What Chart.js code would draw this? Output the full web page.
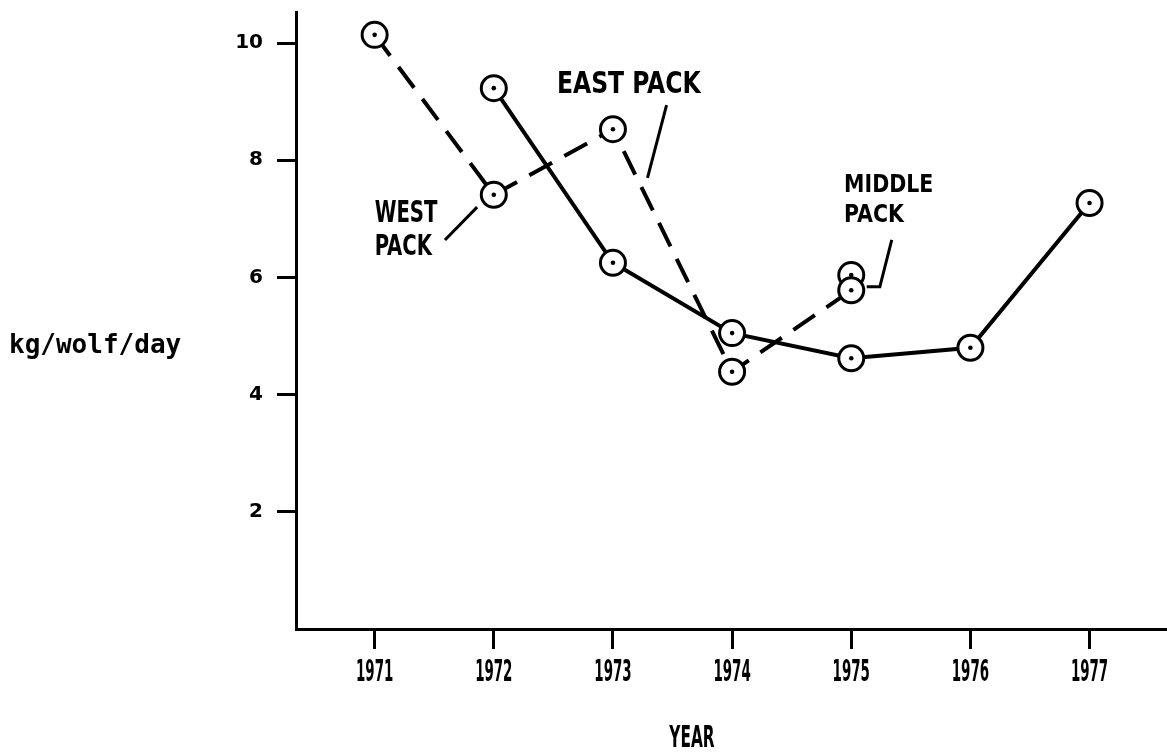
<!DOCTYPE html>
<html>
<head>
<meta charset="utf-8">
<script src="https://cdn.jsdelivr.net/npm/chart.js@4"></script>
<style>
  html, body { margin: 0; padding: 0; background: #fff; overflow: hidden; }
  #wolfChart { position: absolute; left: 0; top: 0; }
</style>
</head>
<body>
<canvas id="wolfChart" width="1167" height="752"></canvas>
<script>
// years on the x axis
const yearTicks = [1971, 1972, 1973, 1974, 1975, 1976, 1977];
const valueTicks = [2, 4, 6, 8, 10];

// solid line
const solidYears = [1972, 1973, 1974, 1975, 1976, 1977];
const solidValues = [9.23, 6.25, 5.05, 4.62, 4.80, 7.27];

// dashed line (west / east pack)
const dashedYears = [1971, 1972, 1973, 1974, 1975];
const dashedValues = [10.14, 7.41, 8.53, 4.39, 5.78];

// second middle pack point
const middleYears = [1975];
const middleValues = [6.04];

const toPoints = (xs, ys) => xs.map((x, i) => ({ x: x, y: ys[i] }));

const condFont = "'DejaVu Sans Condensed', 'DejaVu Sans', sans-serif";
const monoFont = "'DejaVu Sans Mono', monospace";

// labels and leader lines, placed in data units
const notes = [
  { text: "EAST PACK", x: 1972.53, y: 9.28, size: 30, sx: 0.87 },
  { text: "WEST", x: 1971.0, y: 7.08, size: 30, sx: 0.73 },
  { text: "PACK", x: 1971.0, y: 6.50, size: 28, sx: 0.78 },
  { text: "MIDDLE", x: 1974.94, y: 7.56, size: 24, sx: 0.95 },
  { text: "PACK", x: 1974.94, y: 7.05, size: 24, sx: 0.95 }
];
const leaders = [
  [[1973.45, 8.94], [1973.29, 7.70]],
  [[1971.59, 6.64], [1971.86, 7.20]],
  [[1975.34, 6.64], [1975.24, 5.84], [1975.13, 5.84]]
];

const pointStyle = {
  pointRadius: 12.5,
  pointHoverRadius: 12.5,
  pointBackgroundColor: "#fff",
  pointBorderColor: "#000",
  pointBorderWidth: 3
};

function squeezed(c, text, x, y, sx) {
  c.save();
  c.translate(x, y);
  c.scale(sx, 1);
  c.fillText(text, 0, 0);
  c.restore();
}

const extras = {
  id: "extras",
  afterDatasetsDraw(chart) {
    const c = chart.ctx;
    const xs = chart.scales.x, ys = chart.scales.y;
    c.save();
    c.fillStyle = "#000";
    // centre dots
    chart.data.datasets.forEach((ds, i) => {
      chart.getDatasetMeta(i).data.forEach(el => {
        c.beginPath();
        c.arc(el.x, el.y, 2.3, 0, Math.PI * 2);
        c.fill();
      });
    });
    // leader lines
    c.strokeStyle = "#000";
    c.lineWidth = 3;
    leaders.forEach(pts => {
      c.beginPath();
      pts.forEach((p, k) => {
        const px = xs.getPixelForValue(p[0]), py = ys.getPixelForValue(p[1]);
        if (k === 0) c.moveTo(px, py); else c.lineTo(px, py);
      });
      c.stroke();
    });
    // note text
    c.textAlign = "left";
    c.textBaseline = "middle";
    notes.forEach(n => {
      c.font = "bold " + n.size + "px " + condFont;
      squeezed(c, n.text, xs.getPixelForValue(n.x), ys.getPixelForValue(n.y), n.sx);
    });
    // year labels under the x ticks (narrow lettering)
    c.textAlign = "center";
    c.font = "bold 31px " + condFont;
    xs.ticks.forEach(t => {
      squeezed(c, String(t.value), xs.getPixelForValue(t.value), 673, 0.48);
    });
    // axis titles
    squeezed(c, "YEAR", 692, 739, 0.55);
    c.textAlign = "left";
    c.font = "bold 26px " + monoFont;
    c.fillText("kg/wolf/day", 9, 346);
    c.restore();
  }
};

new Chart(document.getElementById("wolfChart"), {
  type: "scatter",
  data: {
    datasets: [
      Object.assign({
        label: "Solid",
        data: toPoints(solidYears, solidValues),
        showLine: true,
        borderColor: "#000",
        borderWidth: 4
      }, pointStyle),
      Object.assign({
        label: "West / East pack",
        data: toPoints(dashedYears, dashedValues),
        showLine: true,
        borderColor: "#000",
        borderWidth: 4,
        borderDash: [26, 14]
      }, pointStyle),
      Object.assign({
        label: "Middle pack",
        data: toPoints(middleYears, middleValues),
        showLine: false
      }, pointStyle)
    ]
  },
  options: {
    responsive: false,
    animation: false,
    devicePixelRatio: 1,
    layout: { autoPadding: false, padding: { top: 12, left: 0, right: 0, bottom: 0 } },
    plugins: { legend: { display: false }, tooltip: { enabled: false } },
    scales: {
      x: {
        type: "linear",
        min: 1970.34,
        max: 1977.65,
        afterBuildTicks: s => { s.ticks = yearTicks.map(v => ({ value: v })); },
        afterFit: s => { s.height = 123; s.paddingLeft = 0; s.paddingRight = 0; },
        grid: { drawOnChartArea: false, tickLength: 20, tickWidth: 3, tickColor: "#000" },
        border: { color: "#000", width: 3 },
        ticks: { display: false }
      },
      y: {
        min: 0,
        max: 10.53,
        afterBuildTicks: s => { s.ticks = valueTicks.map(v => ({ value: v })); },
        afterFit: s => { s.width = 296; s.paddingTop = 0; s.paddingBottom = 0; },
        grid: { drawOnChartArea: false, tickLength: 19, tickWidth: 3, tickColor: "#000" },
        border: { color: "#000", width: 3 },
        ticks: {
          color: "#000",
          padding: 14,
          font: { family: "'DejaVu Sans', sans-serif", size: 20, weight: "bold" }
        }
      }
    }
  },
  plugins: [extras]
});
</script>
</body>
</html>
